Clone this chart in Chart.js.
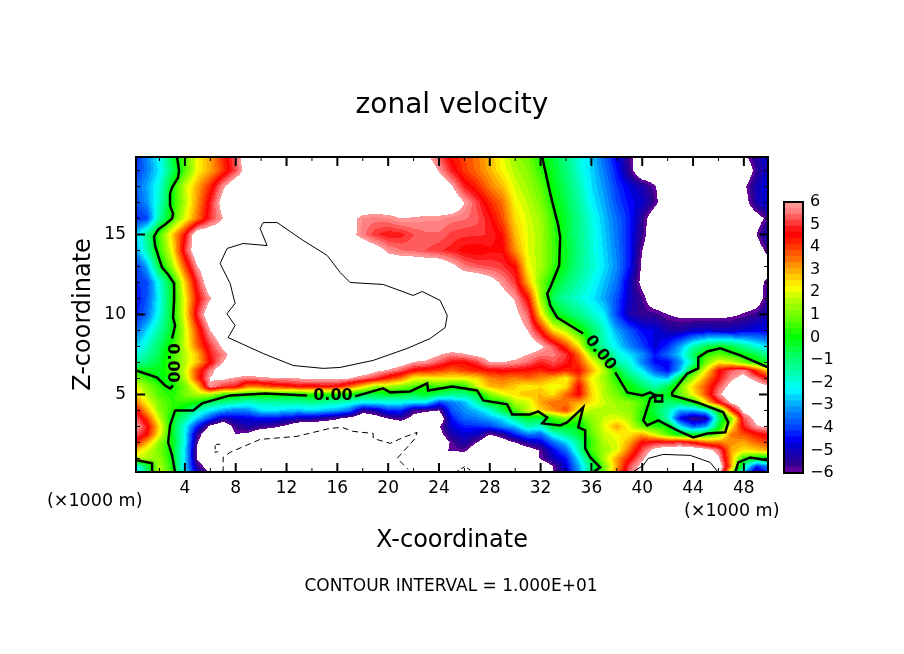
<!DOCTYPE html>
<html>
<head>
<meta charset="utf-8">
<title>zonal velocity</title>
<script src="https://cdn.jsdelivr.net/npm/chart.js@4"></script>
<style>
body { margin: 0; background: #fff; }
canvas { position: absolute; }
#main { left: 0; top: 0; }
#bar { left: 770px; top: 190px; }
</style>
</head>
<body>
<canvas id="main" width="904" height="654"></canvas>
<canvas id="bar" width="70" height="295"></canvas>
<script>
// velocity, one row per height, x = 0..50 km. beyond +-6 is drawn white
var xKm = [0,1,2,3,4,5,6,7,8,9,10,11,12,13,14,15,16,17,18,19,20,21,22,23,24,25,26,27,28,29,30,31,32,33,34,35,36,37,38,39,40,41,42,43,44,45,46,47,48,49,50];
var zKm = [0,0.5,1,1.5,2,2.5,3,3.5,4,4.5,5,5.5,6,6.5,7,7.5,8,9,10,11,12,13,14,15,16,17,18,19,20];

var z0 = [-3.3,-.8,1.7,.4,-2.2,-5,-5.9,-7,-7,-7, -7,-7,-7,-7,-7,-7,-7,-7,-7,-7, -7,-7,-7,-7,-7,-7,-7,-7,-7,-7, -7,-6,-5.2,-6,-4.9,-3.2,-.6,1,3.4,5.6, 6.2,7,7,7,7,7,7,.8,-3,-6.3, -4];
var z05 = [-2.6,-.8,1.6,.1,-2.6,-5.5,-6.6,-7,-7,-7, -7,-7,-7,-7,-7,-7,-7,-7,-7,-7, -7,-7,-7,-7,-7,-7,-7,-7,-7,-7, -7,-7,-7,-6,-4.7,-3,-1,1,3,5.2, 6.4,7,7,7,7,7,7,3.2,-1.4,-4.2, -3.2];
var z1 = [1.8,1.6,1.2,0,-2.5,-6.2,-7,-7,-7,-7, -7,-7,-7,-7,-7,-7,-7,-7,-7,-7, -7,-7,-7,-7,-7,-7,-7,-7,-7,-7, -7,-7,-5.9,-5,-4.4,-2.4,-.3,1.6,3,4.4, 5.8,7,7,7,7,7,6.2,3,.2,-.2, -.4];
var z15 = [2.8,1.9,1,-.1,-2.5,-6.2,-7,-7,-7,-7, -7,-7,-7,-7,-7,-7,-7,-7,-7,-7, -7,-7,-7,-7,-6.2,-5.9,-5.8,-6.8,-7,-7, -7,-6.6,-5.9,-4.6,-3.6,-1.6,.6,1.4,2,3.6, 5.2,6.4,7,7,7,6.6,5.6,3,2.4,2.6, 3];
var z2 = [4.6,3,1.2,0,-2.2,-6,-7,-7,-7,-7, -7,-7,-7,-7,-7,-7,-7,-7,-7,-7, -7,-7,-7,-7,-7,-5.8,-5.2,-6,-7,-6.6, -6,-5.2,-4.8,-3.6,-2.6,-1.2,.4,1.6,2,3, 4.5,4.8,4.8,5,4.4,3.6,3.4,3.2,3,3.6, 4];
var z25 = [5.4,4.5,2.2,-.2,-2.2,-5.6,-7,-7,-6,-6.2, -7,-7,-7,-7,-7,-7,-7,-7,-7,-7, -7,-7,-7,-7,-6.4,-5.2,-4.8,-5,-6,-5.5, -4.3,-3.4,-3.6,-2,-1.2,-.4,.8,1.8,2.2,2.4, 3,1.9,.7,-.2,-.3,.1,1,3.4,3.8,4.4, 4.8];
var z3 = [6.3,4.8,2.4,-.2,-2.1,-4.4,-6.3,-7,-5.6,-5.2, -5.5,-5.8,-6.2,-7,-7,-7,-7,-7,-7,-7, -7,-7,-7,-7,-6.1,-4.8,-4.3,-4.2,-4,-3.3, -2.8,-1.6,-1.9,-.3,-.2,-.3,1,2,3,2, .8,.3,.1,-2.4,-3.8,-3.2,-.4,2.2,4.8,5.9, 6.2];
var z35 = [5.7,4,1.8,-.2,-1.3,-2.7,-4,-5.2,-4.8,-4.7, -4.4,-4.4,-4.8,-5,-5.2,-5.5,-5.9,-6.4,-7,-6.6, -6,-5.6,-6.4,-7,-7,-4.4,-3.6,-3.4,-3,-2.5, -1.2,-.4,-.6,.4,1.2,.4,1.3,1.8,2,1.6, .1,-.1,-1.6,-4.6,-5.6,-5.4,-1,1,5.2,6.4, 7];
var z4 = [4.8,3,1.2,.3,-.6,-1.6,-2.4,-3,-3.4,-3.3, -2.5,-2.4,-2.7,-2.8,-2.5,-2.8,-3,-3.6,-5.5,-5.2, -4.2,-4.2,-5.6,-5.8,-6,-3.8,-3.2,-2.8,-2,-.6, .6,1.8,2.5,3.2,3.9,2.2,1.6,1.6,1.5,1.3, .4,-.6,-1.6,-3,-3,-2.2,-.1,4,6.4,7, 7];
var z45 = [3.6,2.2,1,.4,.4,.1,-.8,-1.2,-1.5,-1.8, -1.6,-1.5,-1.4,-1.4,-1.3,-1.4,-1.6,-1.9,-2.3,-2.2, -2.2,-2.2,-2.4,-2.4,-4,-3.4,-2.9,-1.6,-.1,.1, 1.6,1.8,3,3.6,3.4,3,2.4,1.8,1.4,1.2, .6,-.3,-.9,-.7,0,2.4,4.5,6.2,7,7, 7];
var z5 = [2.8,1.6,.6,.2,1,1.6,1.6,.6,.3,.2, .2,.2,0,0,.3,.2,.2,.1,-.6,-.5, -.3,-.4,-.6,-.2,-.8,-1.2,-1.2,-.5,1.1,2, 2.4,2.8,2.8,2.4,3.6,4.6,2.6,1.6,1,0, .1,-.3,-.2,.9,2.2,3.8,5.7,7,7,7, 6.4];
var z55 = [2.2,1.2,.4,0,1,2.6,5.9,5,4.8,3.4, 3.6,4,4.2,4.6,4.4,4.6,4.5,3.6,2.6,1.4, 1.6,1.1,.7,.2,.6,.1,.2,1.9,2.8,3, 2.6,2.2,2.5,2,2.4,4.6,2.4,1.6,.6,.1, -.8,-1.6,-.6,1,2.6,3.8,5.2,6.4,7,6.6, 6.1];
var z6 = [1.2,.4,-.2,.2,1.6,4,6.1,6.2,5.8,5.5, 5.8,5.9,5.9,6,6.2,6.2,6.2,6,5.4,5, 4.1,3.5,2.2,2.2,2.2,2.2,2.2,2.5,3.3,3.5, 3.3,3.6,3.2,2.8,2.2,3.8,2.2,1.4,.2,-.7, -1.6,-2.4,-2.8,-.2,1.5,3.2,4.6,5.8,6.4,5.6, 4.5];
var z65 = [0,-.2,-.2,.6,1.8,4,5.6,7,7,7, 7,7,7,7,7,7,7,7,7,6.2, 5.9,5.3,4.5,4.2,4,3.6,4,4.2,4.5,4.6, 4.5,4.4,4.2,4.6,4.2,4.5,3,1.6,-.2,-1.6, -2.4,-3.8,-4.5,-2.8,.2,2.2,4.4,5.3,5.7,4, 2.4];
var z7 = [-1.6,-1,-.4,.6,1.6,2.8,4.5,6,7,7, 7,7,7,7,7,7,7,7,7,7, 7,6.6,5.9,5.8,5.2,4.6,4.5,5,6,6, 5.8,5.4,4.8,5.2,4.8,4,2.4,.9,-1.6,-2, -3.4,-4.5,-4.6,-3.2,-1.4,1,2.3,2,1,.2, -.4];
var z75 = [-2.2,-1.4,-.6,.5,1.6,2.8,4.8,5.6,6.6,7, 7,7,7,7,7,7,7,7,7,7, 7,7,7,6.6,6.1,5.6,5.9,6.3,6.5,6.5, 6.4,6,5.6,5.6,5,3.6,1.3,-.3,-1.9,-2.5, -3.2,-4.4,-3.6,-2.6,-.8,.3,.8,.3,-.1,-.6, -1.4];
var z8 = [-2.8,-1.8,-.8,.3,1.8,3.6,5,6.2,7,7, 7,7,7,7,7,7,7,7,7,7, 7,7,7,7,7,7,7,7,7,7, 7,6.8,6.2,5.3,4,2.4,-.4,-1.6,-2.4,-3.3, -4,-4.8,-4.2,-3,-1.6,-.7,-.2,-.5,-1.2,-2, -2.6];
var z9 = [-3.8,-2.6,-1.4,-.2,1.8,4,6,7,7,7, 7,7,7,7,7,7,7,7,7,7, 7,7,7,7,7,7,7,7,7,7, 6.6,6,4.5,2.5,1.6,.3,-.7,-1.8,-3,-3.8, -4.5,-4.7,-5.2,-5.3,-5,-4.9,-5,-5,-4.8,-4.6, -4.6];
var z10 = [-4.4,-3.6,-2,-.2,2.2,5,7,7,7,7, 7,7,7,7,7,7,7,7,7,7, 7,7,7,7,7,7,7,7,7,7, 6.3,5.4,2.5,.1,-.6,-1.2,-1.8,-2.4,-4,-5.2, -5.6,-5.6,-6,-6.2,-6.3,-6.3,-6.3,-6.2,-5.9,-5.6, -5];
var z11 = [-4.6,-3.8,-2.2,-.2,2.2,4.5,5.9,7,7,7, 7,7,7,7,7,7,7,7,7,7, 7,7,7,7,7,7,7,7,7,6.5, 5.9,4.5,1.4,-.8,-1.5,-1.9,-2.4,-3,-3.9,-5, -5.7,-6.8,-7,-7,-7,-7,-7,-7,-7,-6.6, -5.4];
var z12 = [-4.2,-4,-2,-.2,2.6,5,7,7,7,7, 7,7,7,7,7,7,7,7,7,7, 7,7,7,7,7,7,7,7,6.5,5.8, 5,2.9,1.1,-.1,-.9,-1.5,-2.1,-2.8,-3.5,-5, -6.3,-7,-7,-7,-7,-7,-7,-7,-7,-6.5, -5.6];
var z13 = [-4.4,-3,-.4,1.4,3.8,6,7,7,7,7, 7,7,7,7,7,7,7,7,7,7, 7,7,7,7,7,6.3,5.6,5.3,5.2,5, 4.5,2.2,1.5,.5,-.4,-1.2,-1.8,-2.5,-3.3,-4.4, -6.2,-7,-7,-7,-7,-7,-7,-7,-7,-7, -6.6];
var z14 = [-3.4,-1.6,.4,2.2,5,7,7,7,7,7, 7,7,7,7,7,7,7,7,7,6.6, 5.8,5.5,5.4,5.2,5,4.8,4.5,4.4,4.6,4.6, 3.2,2,1.5,.6,-.3,-1.1,-1.9,-2.6,-3.4,-4.4, -6,-7,-7,-7,-7,-7,-7,-7,-7,-6.6, -5.6];
var z15k = [-3,-1.2,.6,2.6,4.5,7,7,7,7,7, 7,7,7,7,7,7,7,6.4,5.6,5, 4.7,4.8,5.2,5.4,5.4,5.1,5,5,4.9,4.4, 2.8,2,1.5,.5,-.4,-1.2,-1.9,-2.7,-3.5,-4.4, -5.6,-7,-7,-7,-7,-7,-7,-7,-7,-6, -4.8];
var z16 = [-4.3,-4,-1.4,.4,2,3.5,5,6,7,7, 7,7,7,7,7,7,7,6.4,5.7,5.6, 5.7,6,5.9,5.8,5.8,5.6,5.5,5.3,4.7,3.8, 2.5,1.9,1.4,.4,-.4,-1.2,-2,-2.8,-3.6,-4.3, -5.5,-6.8,-7,-7,-7,-7,-7,-7,-7,-6.5, -5.6];
var z17 = [-4,-3.2,-1.8,0,1.6,3.2,4.8,6.5,7,7, 7,7,7,7,7,7,7,7,7,7, 7,7,7,7,7,7,6,5.1,4.2,3.5, 2.2,1.7,1.1,.1,-.6,-1.4,-2.3,-3,-3.9,-4.5, -4.9,-5.7,-7,-7,-7,-7,-7,-7,-6.5,-5.2, -4.6];
var z18 = [-3.8,-3,-2,0,1.8,3,4.2,5.8,7,7, 7,7,7,7,7,7,7,7,7,7, 7,7,7,7,7,6.1,4.8,4.2,3.4,2.8, 1.9,1.4,.8,-.1,-.8,-1.6,-2.5,-3.2,-4.1,-4.7, -5.2,-5.9,-7,-7,-7,-7,-7,-7,-6.2,-5.1, -4.6];
var z19 = [-4.3,-3.4,-2.4,-.8,.6,2.2,3,4,5.2,6.8, 7,7,7,7,7,7,7,7,7,7, 7,7,7,7,5.9,4.8,4,3.5,2.9,2.2, 1.6,1.2,.4,-.3,-1,-1.9,-2.6,-3.4,-4.4,-5.6, -7,-7,-7,-7,-7,-7,-7,-7,-7,-5.6, -4.8];
var z20 = [-4.3,-3.3,-2.2,-.5,.8,2.2,3,4.2,5.4,7, 7,7,7,7,7,7,7,7,7,7, 7,7,7,6.1,5.2,4.3,3.9,3.4,2.8,2, 1.4,.9,.1,-.5,-1.2,-2,-2.7,-3.7,-4.7,-5.7, -7,-7,-7,-7,-7,-7,-7,-7,-6.2,-5.2, -4.8];
var fieldRows = [z0,z05,z1,z15,z2,z25,z3,z35,z4,z45,z5,z55,z6,z65,z7,z75,z8,z9,z10,z11,z12,z13,z14,z15k,z16,z17,z18,z19,z20];

// contour lines, [x km, z km]
var zeroTopLeft = [[3.39,19.81],[3.54,19],[3.46,18.56],[2.99,17.94],[2.83,17.56],[2.83,16.81],[3.07,16.31],[2.99,16],[2.44,15.63],[1.89,15.31],[1.57,14.88],[1.65,14.31],[1.97,13.5],[2.2,12.94],[2.68,12.5],[3.15,11.94],[3.15,10.88],[3.07,9.81],[3.23,9.31],[2.99,8.5]];
var zeroLeftEdge = [[.16,6.5],[1.81,6.06],[2.44,5.56],[2.83,5.38],[3.07,5.56]];
var zeroLowLeft = [[3.23,.13],[2.99,1.19],[2.68,2],[2.83,3.06],[3.23,4],[4.65,4],[5.35,4.44],[7.56,4.94],[10.31,5.06],[13.62,4.94]];
var zeroMiddle = [[17.4,4.88],[19.6,5.38],[20.16,5.13],[21.73,5.19],[23.07,5.69],[23.15,5.25],[25.04,5.5],[27,5.25],[27.48,4.63],[29.37,4.38],[29.76,3.75],[31.18,3.75],[31.81,3.94],[32.52,3.56],[32.13,3.19],[33.54,3.06],[34.09,3.25],[35.35,4.19],[34.96,2.94],[35.51,2.75],[35.51,1.63],[35.91,1.06],[36.69,.44],[36.14,.13]];
var zeroDiagonal = [[32.13,19.81],[32.36,19],[32.76,17.56],[33.39,15.56],[33.54,14.81],[33.46,13.06],[32.76,11.69],[32.52,11.31],[32.76,10.56],[33.31,9.81],[34.33,9.31],[35.35,8.81]];
var zeroRight = [[37.87,6.38],[38.82,5.13],[40,4.94],[40.63,5.13],[41.02,4.94],[41.57,4.94],[41.57,4.56],[41.02,4.56],[41.02,4.94],[40.63,4.75],[40.08,3.38],[40.39,3.06],[41.26,3.38],[42.76,2.75],[44.02,2.31],[45.12,2.56],[46.54,2.63],[46.77,3.25],[46.38,3.88],[44.33,4.5],[42.36,4.94],[42.36,5.13],[43.54,6.31],[44.41,6.63],[44.41,7.31],[45.12,7.69],[46.14,7.88],[47.72,7.44],[49.9,6.69]];
var zeroCornerRight = [[47.32,.13],[47.56,.75],[48.5,1.06],[49.84,.88]];
var zeroCornerLeft = [[.24,.88],[1.42,.69],[1.42,.13]];
var plusUpper = [[10.47,14.31],[9.92,15.38],[10.16,15.75],[11.26,15.75],[13.31,14.63],[15.2,13.69],[16.22,12.63],[17.01,12],[19.61,11.88],[21.97,11.19],[22.68,11.44],[24.09,10.88],[24.65,9.94],[24.49,9.19],[23.31,8.5],[21.5,7.88],[18.82,7.13],[16.22,6.69],[14.88,6.63],[12.52,6.81],[10.16,7.56],[7.4,8.56],[7.95,9.31],[7.4,9.94],[7.32,10.06],[7.95,10.69],[7.56,11.94],[6.77,13.19],[7.32,14.13],[8.58,14.44],[10.47,14.31]];
var plusLower = [[39.21,.13],[40.08,.56],[40.47,1],[41.65,1.25],[43.78,1.19],[45.35,.75],[45.98,.13]];
var minusLong = [[7.01,.13],[7.01,1.06],[7.56,1.38],[9.92,2.19],[12.83,2.38],[15.43,2.88],[16.38,2.94],[17.24,2.69],[18.82,2.56],[18.82,2.25],[20.16,1.94],[21.18,2.31],[22.28,2.63],[22.13,2.25],[20.71,1],[21.57,.31]];
var minusSmall = [[6.77,1.88],[6.38,1.88],[6.38,1.38],[6.69,1.44]];
var minusBottom = [[25.28,.13],[26.06,.5],[26.69,.13]];

var xTickLabels = [4,8,12,16,20,24,28,32,36,40,44,48];
var xTickMinor = [2,6,10,14,18,22,26,30,34,38,42,46];
var zTickLabels = [5,10,15];
var zTickMinor = [1,2,3,4,6,7,8,9,11,12,13,14,16,17,18,19];
var barLabels = [6,5,4,3,2,1,0,-1,-2,-3,-4,-5,-6];
var barEdges = [-5.6,-4.8,-4,-3.2,-2.4,-1.6,-.8,0,.8,1.6,2.4,3.2,4,4.8,5.6];
var bandStep = 0.8 / 3;

var colorStops = [
    [-6,[120,0,160]],[-5.6,[48,0,144]],[-4.8,[0,0,208]],[-4.5,[0,0,255]],[-4,[0,64,255]],[-3.2,[0,144,255]],
    [-2.3,[0,255,255]],[-1.6,[0,255,176]],[-.8,[0,255,96]],[0,[0,255,0]],[.8,[96,255,0]],[1.6,[176,255,0]],
    [2.2,[255,255,0]],[2.4,[255,232,0]],[3.2,[255,144,0]],[4.5,[255,0,0]],[4.8,[255,24,24]],[5.6,[255,128,128]],[6,[255,160,160]]
];

function stopColor(v){
    for (var i = 1; i < colorStops.length; i++){
        if (v <= colorStops[i][0]){
            var a = colorStops[i-1], b = colorStops[i];
            var t = (v - a[0]) / (b[0] - a[0]);
            return 'rgb(' + Math.round(a[1][0] + (b[1][0]-a[1][0])*t) + ',' + Math.round(a[1][1] + (b[1][1]-a[1][1])*t) + ',' + Math.round(a[1][2] + (b[1][2]-a[1][2])*t) + ')';
        }
    }
    return 'rgb(255,160,160)';
}

// one colour per contour band
var bandCache = {};
function bandColor(v){
    var k = Math.floor((v + 6) / bandStep);
    if (!bandCache[k]) bandCache[k] = stopColor(-6 + (k + 0.5) * bandStep);
    return bandCache[k];
}

function findIndex(list, v){
    var i = 0;
    while (i < list.length - 2 && list[i+1] <= v) i++;
    return i;
}

function fieldAt(x, z){
    var i = findIndex(xKm, x), j = findIndex(zKm, z);
    var tx = (x - xKm[i]) / (xKm[i+1] - xKm[i]);
    var tz = (z - zKm[j]) / (zKm[j+1] - zKm[j]);
    var lo = fieldRows[j][i] * (1-tx) + fieldRows[j][i+1] * tx;
    var hi = fieldRows[j+1][i] * (1-tx) + fieldRows[j+1][i+1] * tx;
    return lo * (1-tz) + hi * tz;
}

var fillPlugin = {
    id: 'fieldFill',
    beforeDatasetsDraw: function (chart){
        var ctx = chart.ctx, area = chart.chartArea, sx = chart.scales.x, sy = chart.scales.y;
        var block = 1;
        ctx.save();
        for (var px = area.left; px < area.right; px += block){
            for (var py = area.top; py < area.bottom; py += block){
                var v = fieldAt(sx.getValueForPixel(px + block/2), sy.getValueForPixel(py + block/2));
                if (v >= 6 || v <= -6) continue;
                ctx.fillStyle = bandColor(v);
                ctx.fillRect(px, py, block, block);
            }
        }
        ctx.restore();
    }
};

function tickX(ctx, sx, area, value, len, width){
    var p = sx.getPixelForValue(value);
    ctx.lineWidth = width;
    ctx.beginPath();
    ctx.moveTo(p, area.bottom); ctx.lineTo(p, area.bottom - len);
    ctx.moveTo(p, area.top); ctx.lineTo(p, area.top + len);
    ctx.stroke();
}
function tickZ(ctx, sy, area, value, len, width){
    var p = sy.getPixelForValue(value);
    ctx.lineWidth = width;
    ctx.beginPath();
    ctx.moveTo(area.left, p); ctx.lineTo(area.left + len, p);
    ctx.moveTo(area.right, p); ctx.lineTo(area.right - len, p);
    ctx.stroke();
}

function curveLabel(ctx, sx, sy, x, z, angle){
    ctx.save();
    ctx.translate(sx.getPixelForValue(x), sy.getPixelForValue(z));
    ctx.rotate(angle);
    ctx.fillStyle = '#000';
    ctx.font = 'bold 16px "DejaVu Sans"';
    ctx.textAlign = 'center';
    ctx.textBaseline = 'middle';
    ctx.fillText('0.00', 0, 0);
    ctx.restore();
}

var framePlugin = {
    id: 'frame',
    afterDatasetsDraw: function (chart){
        var ctx = chart.ctx, area = chart.chartArea, sx = chart.scales.x, sy = chart.scales.y;
        ctx.save();
        ctx.strokeStyle = '#000';
        xTickLabels.forEach(function (v){ tickX(ctx, sx, area, v, 9, 2); });
        xTickMinor.forEach(function (v){ tickX(ctx, sx, area, v, 4, 1); });
        zTickLabels.forEach(function (v){ tickZ(ctx, sy, area, v, 9, 2); });
        zTickMinor.forEach(function (v){ tickZ(ctx, sy, area, v, 4, 1); });
        ctx.lineWidth = 2;
        ctx.strokeRect(area.left, area.top, area.right - area.left, area.bottom - area.top);

        curveLabel(ctx, sx, sy, 15.65, 4.9, 0);
        curveLabel(ctx, sx, sy, 3.0, 6.97, Math.PI / 2);
        curveLabel(ctx, sx, sy, 36.7, 7.6, 0.9);

        ctx.fillStyle = '#000';
        ctx.textBaseline = 'middle';
        ctx.font = '17.5px "DejaVu Sans"';
        ctx.textAlign = 'left';
        ctx.fillText('(\u00d71000 m)', 47, 501);
        ctx.fillText('(\u00d71000 m)', 684, 511);
        ctx.textAlign = 'center';
        ctx.font = '17px "DejaVu Sans"';
        ctx.fillText('CONTOUR INTERVAL = 1.000E+01', 451, 587);
        ctx.restore();
    }
};

function pts(list){
    return list.map(function (p){ return {x: p[0], y: p[1]}; });
}
function contour(list, width, dash){
    return {data: pts(list), showLine: true, pointRadius: 0, borderColor: '#000', borderWidth: width, borderDash: dash || [], tension: 0};
}

new Chart('main', {
    type: 'scatter',
    data: {
        datasets: [
            contour(zeroTopLeft, 2.5), contour(zeroLeftEdge, 2.5), contour(zeroLowLeft, 2.5), contour(zeroMiddle, 2.5),
            contour(zeroDiagonal, 2.5), contour(zeroRight, 2.5), contour(zeroCornerRight, 2.5), contour(zeroCornerLeft, 2.5),
            contour(plusUpper, 1), contour(plusLower, 1),
            contour(minusLong, 1, [6,4]), contour(minusSmall, 1, [4,2]), contour(minusBottom, 1, [4,3])
        ]
    },
    plugins: [fillPlugin, framePlugin],
    options: {
        responsive: false,
        animation: false,
        devicePixelRatio: 1,
        layout: {padding: {left: 0, right: 0, top: 89, bottom: 100}},
        plugins: {
            legend: {display: false},
            tooltip: {enabled: false},
            title: {
                display: true,
                text: 'zonal velocity',
                color: '#000',
                font: {family: '"DejaVu Sans"', size: 28, weight: 'normal', lineHeight: 1.2},
                padding: {top: 0, bottom: 34.4}
            }
        },
        scales: {
            x: {
                type: 'linear', min: 0.15, max: 49.9,
                grid: {display: false, drawTicks: false},
                border: {display: false},
                afterBuildTicks: function (s){ s.ticks = xTickLabels.map(function (v){ return {value: v}; }); },
                afterFit: function (s){ s.height = 82; },
                ticks: {color: '#000', font: {family: '"DejaVu Sans"', size: 17}, maxRotation: 0, autoSkip: false, padding: 6},
                title: {display: true, text: 'X-coordinate', color: '#000', font: {family: '"DejaVu Sans"', size: 24}, padding: {top: 0, bottom: -1}}
            },
            y: {
                type: 'linear', min: 0.15, max: 19.85,
                grid: {display: false, drawTicks: false},
                border: {display: false},
                afterBuildTicks: function (s){ s.ticks = zTickLabels.map(function (v){ return {value: v}; }); },
                afterFit: function (s){ s.width = 136; },
                ticks: {color: '#000', font: {family: '"DejaVu Sans"', size: 17}, padding: 10},
                title: {display: true, text: 'Z-coordinate', color: '#000', font: {family: '"DejaVu Sans"', size: 24}, padding: {top: 69, bottom: 0}}
            },
            // empty axis so the plot sits centred under the title
            spacer: {
                type: 'linear', position: 'right',
                grid: {display: false, drawTicks: false},
                border: {display: false},
                ticks: {display: false},
                afterFit: function (s){ s.width = 136; }
            }
        }
    }
});

// colour bar, one floating bar per band and a thin black one per box edge
var barSets = [];
for (var k = 0; k < 45; k++){
    var lo = -6 + k * bandStep;
    barSets.push({data: [[lo, lo + bandStep]], backgroundColor: stopColor(lo + bandStep / 2), borderWidth: 0});
}
barEdges.forEach(function (e){
    barSets.push({data: [[e - 0.04, e + 0.04]], backgroundColor: '#000', borderWidth: 0});
});

new Chart('bar', {
    type: 'bar',
    data: {labels: ['v'], datasets: barSets},
    plugins: [{
        id: 'barFrame',
        afterDatasetsDraw: function (chart){
            var a = chart.chartArea;
            chart.ctx.save();
            chart.ctx.strokeStyle = '#000';
            chart.ctx.lineWidth = 2;
            chart.ctx.strokeRect(a.left, a.top, a.right - a.left, a.bottom - a.top);
            chart.ctx.restore();
        }
    }],
    options: {
        responsive: false,
        animation: false,
        devicePixelRatio: 1,
        layout: {padding: {left: 14, right: 0, top: 12, bottom: 12}},
        datasets: {bar: {categoryPercentage: 1, barPercentage: 1}},
        plugins: {legend: {display: false}, tooltip: {enabled: false}},
        scales: {
            x: {display: false, stacked: true},
            y: {
                position: 'right', min: -6, max: 6,
                grid: {display: false, drawTicks: false},
                border: {display: false},
                afterBuildTicks: function (s){ s.ticks = barLabels.map(function (v){ return {value: v}; }); },
                afterFit: function (s){ s.width = 37; s.paddingTop = 0; s.paddingBottom = 0; },
                ticks: {
                    color: '#000', font: {family: '"DejaVu Sans"', size: 16}, padding: 7,
                    callback: function (v){ return String(v).replace('-', '\u2212'); }
                }
            }
        }
    }
});
</script>
</body>
</html>
